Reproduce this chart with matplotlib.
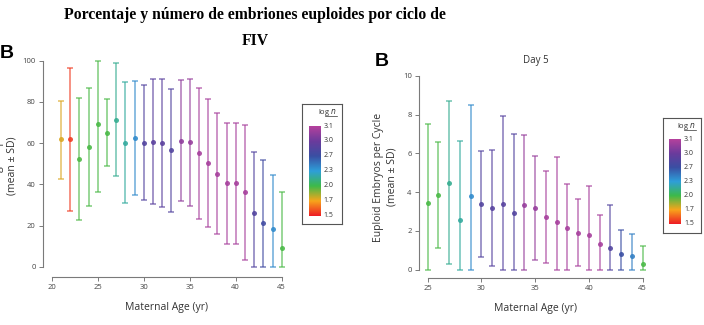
import matplotlib
matplotlib.use("Agg")
import matplotlib.pyplot as plt
import numpy as np
from matplotlib.colors import LinearSegmentedColormap, to_rgba

SMALL_TEXT = 5.5
MED_TEXT = 7.5

# ---- panel 1: percentage euploid (mean +/- SD) ----
AGE_PCT = [21, 22, 23, 24, 25, 26, 27, 28, 29, 30, 31, 32, 33,
           34, 35, 36, 37, 38, 39, 40, 41, 42, 43, 44, 45]
PCT_MEAN = [61.9, 61.9, 52.3, 58.3, 69.3, 65.1, 71.4, 60.3, 62.7, 60.3, 60.6, 60.1, 56.5,
            61.2, 60.4, 55.1, 50.6, 45.2, 40.5, 40.5, 36.2, 26.3, 21.3, 18.6, 9.0]
PCT_HI = [80.6, 96.3, 81.9, 86.9, 100.0, 81.6, 98.9, 89.7, 90.1, 88.4, 91.0, 91.0, 86.4,
          90.5, 91.1, 86.9, 81.6, 74.6, 69.8, 69.8, 68.8, 55.9, 51.9, 44.7, 36.3]
PCT_LO = [42.8, 27.3, 22.9, 29.7, 36.3, 48.8, 43.9, 31.2, 35.1, 32.3, 30.4, 29.2, 26.8,
          32.1, 29.7, 23.3, 19.5, 15.8, 11.0, 11.0, 3.2, 0.0, 0.0, 0.0, 0.0]
PCT_LOGN = [1.75, 1.55, 1.97, 1.98, 1.98, 1.98, 2.15, 2.18, 2.4, 2.85, 2.9, 2.9, 2.85,
            3.05, 3.06, 3.08, 3.08, 3.08, 3.08, 3.08, 3.08, 2.85, 2.75, 2.4, 1.98]

# ---- panel 2: euploid embryos per cycle, day 5 ----
AGE_NUM = [25, 26, 27, 28, 29, 30, 31, 32, 33, 34, 35,
           36, 37, 38, 39, 40, 41, 42, 43, 44, 45]
NUM_MEAN = [3.45, 3.85, 4.5, 2.55, 3.8, 3.4, 3.2, 3.4, 2.95, 3.35, 3.2,
            2.7, 2.45, 2.15, 1.9, 1.8, 1.35, 1.1, 0.8, 0.72, 0.3]
NUM_HI = [7.5, 6.6, 8.7, 6.65, 8.5, 6.15, 6.2, 7.95, 7.0, 6.95, 5.85,
          5.1, 5.8, 4.4, 3.65, 4.3, 2.85, 3.35, 2.05, 1.85, 1.2]
NUM_LO = [0.0, 1.1, 0.3, 0.0, 0.0, 0.65, 0.2, 0.0, 0.0, 0.0, 0.5,
          0.35, 0.0, 0.0, 0.2, 0.0, 0.0, 0.0, 0.0, 0.0, 0.0]
NUM_LOGN = [1.98, 1.98, 2.15, 2.18, 2.4, 2.85, 2.88, 2.88, 2.85, 3.06, 3.06,
            3.08, 3.08, 3.08, 3.08, 3.08, 3.08, 2.85, 2.7, 2.45, 1.98]

LOGN_TICKS = [1.5, 1.7, 2.0, 2.3, 2.7, 3.0, 3.1]
LOGN_LABELS = ["1.5", "1.7", "2.0", "2.3", "2.7", "3.0", "3.1"]
CMAP_COLORS = ["#ee1c25", "#f8a51b", "#3dba4a", "#2e9fd9", "#3a4fa3", "#6b3b9c", "#b5419d"]

cmap = LinearSegmentedColormap.from_list("logn", CMAP_COLORS)


def logn_color(v):
    pos = np.interp(v, LOGN_TICKS, np.linspace(0, 1, len(LOGN_TICKS)))
    return cmap(pos)


plt.rcParams.update({
    "font.family": ["Open Sans", "DejaVu Sans"],
    "axes.linewidth": 0.8,
    "axes.edgecolor": "#7a7a7a",
    "xtick.color": "#7a7a7a",
    "ytick.color": "#7a7a7a",
    "xtick.labelcolor": "#444444",
    "ytick.labelcolor": "#444444",
    "xtick.labelsize": SMALL_TEXT,
    "ytick.labelsize": SMALL_TEXT,
})

fig = plt.figure(figsize=(7.04, 3.25), dpi=100)
W, H = 704.0, 325.0


def px_axes(x0, y0, x1, y1):
    # rectangle in pixel coords (top-left origin) -> figure fraction
    return fig.add_axes([x0 / W, 1 - y1 / H, (x1 - x0) / W, (y1 - y0) / H])


def draw_panel(ax, ages, mean, lo, hi, logn):
    for a, m, l, h, n in zip(ages, mean, lo, hi, logn):
        c = logn_color(n)
        line_c = to_rgba(c, 0.72)
        ax.errorbar([a], [m], yerr=[[m - l], [h - m]], fmt='none',
                    ecolor=line_c, elinewidth=1.1, capsize=2.2, capthick=1.1)
        ax.plot([a], [m], 'o', color=c, ms=3.6, mec='none', alpha=0.9)
    for s in ['top', 'right']:
        ax.spines[s].set_visible(False)
    ax.tick_params(direction='out', length=3, width=0.7, pad=2)
    ax.set_facecolor('none')


def draw_key(x0, y0, x1, y1, gy0, gy1, gx0, gx1):
    box = px_axes(x0, y0, x1, y1)
    box.set_xticks([])
    box.set_yticks([])
    for s in box.spines.values():
        s.set_edgecolor('#555555')
        s.set_linewidth(0.8)
    cax = px_axes(gx0, gy0, gx1, gy1)
    grad = np.linspace(0, 1, 256).reshape(-1, 1)
    cax.imshow(grad, cmap=cmap, origin='lower', aspect='auto', extent=[0, 1, 0, 1])
    cax.set_xticks([])
    cax.set_yticks([])
    for s in cax.spines.values():
        s.set_visible(False)
    n = len(LOGN_LABELS)
    for i, lab in enumerate(LOGN_LABELS):
        yy = gy1 - (gy1 - gy0) * i / (n - 1)
        fig.text((gx1 + 3) / W, 1 - yy / H, lab, fontsize=5, color='#333333',
                 ha='left', va='center')
    hx = (x1 - 5) / W
    fig.text(hx, 1 - (y0 + 8) / H, r"log $n$", fontsize=5.5, color='#333333',
             ha='right', va='center')
    fig.add_artist(plt.Line2D([(x1 - 17) / W, (x1 - 5) / W],
                              [1 - (y0 + 12) / H] * 2, color='#333333', lw=0.5))


# ---- left panel ----
ax1 = px_axes(47.1, 56.6, 286.3, 271.1)
draw_panel(ax1, AGE_PCT, PCT_MEAN, PCT_LO, PCT_HI, PCT_LOGN)
ax1.set_xlim(19.5, 45.5)
ax1.set_ylim(-2, 102)
ax1.spines['left'].set_position(('outward', 3.2))
ax1.spines['bottom'].set_position(('outward', 4.2))
ax1.spines['left'].set_bounds(0, 100)
ax1.spines['bottom'].set_bounds(20, 45)
ax1.set_xticks([20, 25, 30, 35, 40, 45])
ax1.set_yticks([0, 20, 40, 60, 80, 100])
ax1.set_xlabel("Maternal Age (yr)", fontsize=MED_TEXT, color='#333333', labelpad=8)
# the reference crops this label at the left edge of the image
fig.text(-1 / W, 1 - 168 / H, "Percentage Euploid", rotation=90, fontsize=MED_TEXT,
         color='#333333', ha='center', va='center')
fig.text(12 / W, 1 - 166 / H, "(mean \u00b1 SD)", rotation=90, fontsize=7.5,
         color='#333333', ha='center', va='center')
fig.text(0 / W, 1 - 53 / H, "B", fontsize=14, fontweight='bold',
         family=['Liberation Sans'], ha='left', va='center')
draw_key(302.3, 104.3, 342.3, 224.3, 126, 215.7, 309, 320.7)

# ---- right panel ----
ax2 = px_axes(422.3, 72.1, 648.1, 273.6)
draw_panel(ax2, AGE_NUM, NUM_MEAN, NUM_LO, NUM_HI, NUM_LOGN)
ax2.set_xlim(24.5, 45.5)
ax2.set_ylim(-0.2, 10.2)
ax2.spines['left'].set_position(('outward', 2.6))
ax2.spines['bottom'].set_position(('outward', 3.0))
ax2.spines['left'].set_bounds(0, 10)
ax2.spines['bottom'].set_bounds(25, 45)
ax2.set_xticks([25, 30, 35, 40, 45])
ax2.set_yticks([0, 2, 4, 6, 8, 10])
ax2.set_xlabel("Maternal Age (yr)", fontsize=MED_TEXT, color='#333333', labelpad=8)
fig.text(378 / W, 1 - 177 / H, "Euploid Embryos per Cycle", rotation=90,
         fontsize=MED_TEXT, color='#333333', ha='center', va='center')
fig.text(392 / W, 1 - 177 / H, "(mean \u00b1 SD)", rotation=90, fontsize=7.5,
         color='#333333', ha='center', va='center')
fig.text(375 / W, 1 - 61 / H, "B", fontsize=14, fontweight='bold',
         family=['Liberation Sans'], ha='left', va='center')
fig.text(535.7 / W, 1 - 61 / H, "Day 5", fontsize=7, color='#333333',
         ha='center', va='center')
draw_key(662.7, 118.3, 700.7, 232.7, 139.3, 223.7, 669.3, 681)

# ---- title ----
fig.text(255 / W, 1 - 15 / H, "Porcentaje y número de embriones euploides por ciclo de",
         fontsize=11.3, fontweight='bold', family=['Liberation Serif'],
         ha='center', va='center')
fig.text(255 / W, 1 - 41 / H, "FIV", fontsize=11.3, fontweight='bold',
         family=['Liberation Serif'], ha='center', va='center')

fig.savefig("out.png", dpi=100)
